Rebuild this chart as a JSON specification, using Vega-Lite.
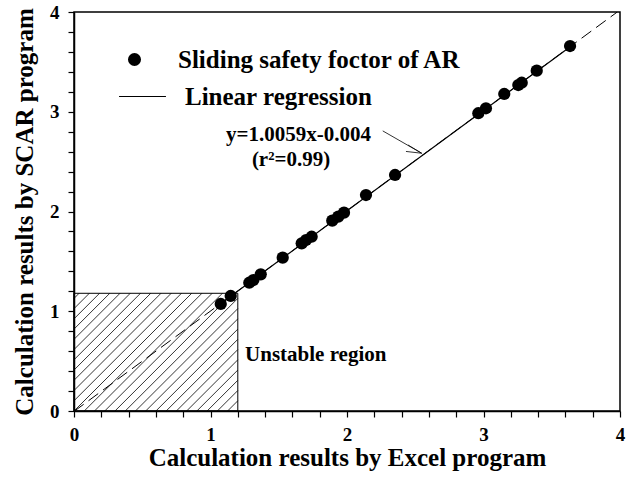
{
  "$schema": "https://vega.github.io/schema/vega-lite/v6.json",
  "autosize": "none",
  "width": 546,
  "height": 399,
  "padding": {"left": 74, "top": 12, "right": 13, "bottom": 70},
  "background": "white",
  "config": {
    "view": {"stroke": "black", "strokeWidth": 1.5},
    "font": "Liberation Serif",
    "axis": {
      "domainColor": "black", "domainWidth": 1.5, "tickColor": "black", "tickWidth": 1.2,
      "labelFont": "Liberation Serif", "labelFontWeight": "bold", "labelFontSize": 19, "labelColor": "black",
      "titleFont": "Liberation Serif", "titleFontWeight": "bold", "titleFontSize": 25, "titleColor": "black",
      "grid": false
    },
    "legend": {"labelFont": "Liberation Serif", "labelFontWeight": "bold", "labelFontSize": 25, "labelColor": "black", "labelLimit": 400}
  },
  "datasets": {
    "pts": [
      {"excel": 1.075, "scar": 1.073, "series": "Sliding safety foctor of AR"},
      {"excel": 1.148, "scar": 1.153, "series": "Sliding safety foctor of AR"},
      {"excel": 1.284, "scar": 1.286, "series": "Sliding safety foctor of AR"},
      {"excel": 1.314, "scar": 1.313, "series": "Sliding safety foctor of AR"},
      {"excel": 1.368, "scar": 1.370, "series": "Sliding safety foctor of AR"},
      {"excel": 1.529, "scar": 1.537, "series": "Sliding safety foctor of AR"},
      {"excel": 1.668, "scar": 1.681, "series": "Sliding safety foctor of AR"},
      {"excel": 1.700, "scar": 1.714, "series": "Sliding safety foctor of AR"},
      {"excel": 1.741, "scar": 1.747, "series": "Sliding safety foctor of AR"},
      {"excel": 1.892, "scar": 1.908, "series": "Sliding safety foctor of AR"},
      {"excel": 1.936, "scar": 1.948, "series": "Sliding safety foctor of AR"},
      {"excel": 1.978, "scar": 1.988, "series": "Sliding safety foctor of AR"},
      {"excel": 2.139, "scar": 2.165, "series": "Sliding safety foctor of AR"},
      {"excel": 2.352, "scar": 2.366, "series": "Sliding safety foctor of AR"},
      {"excel": 2.962, "scar": 2.985, "series": "Sliding safety foctor of AR"},
      {"excel": 3.018, "scar": 3.035, "series": "Sliding safety foctor of AR"},
      {"excel": 3.152, "scar": 3.178, "series": "Sliding safety foctor of AR"},
      {"excel": 3.255, "scar": 3.268, "series": "Sliding safety foctor of AR"},
      {"excel": 3.280, "scar": 3.291, "series": "Sliding safety foctor of AR"},
      {"excel": 3.390, "scar": 3.412, "series": "Sliding safety foctor of AR"},
      {"excel": 3.634, "scar": 3.659, "series": "Sliding safety foctor of AR"}
    ],
    "hatch": [
      {"x": 0, "y": 1.1289, "x2": 0.0373, "y2": 1.18},
      {"x": 0, "y": 1.0263, "x2": 0.1123, "y2": 1.18},
      {"x": 0, "y": 0.9237, "x2": 0.1873, "y2": 1.18},
      {"x": 0, "y": 0.8210, "x2": 0.2623, "y2": 1.18},
      {"x": 0, "y": 0.7184, "x2": 0.3373, "y2": 1.18},
      {"x": 0, "y": 0.6158, "x2": 0.4123, "y2": 1.18},
      {"x": 0, "y": 0.5132, "x2": 0.4873, "y2": 1.18},
      {"x": 0, "y": 0.4105, "x2": 0.5623, "y2": 1.18},
      {"x": 0, "y": 0.3079, "x2": 0.6373, "y2": 1.18},
      {"x": 0, "y": 0.2053, "x2": 0.7123, "y2": 1.18},
      {"x": 0, "y": 0.1026, "x2": 0.7873, "y2": 1.18},
      {"x": 0, "y": 0, "x2": 0.8623, "y2": 1.18},
      {"x": 0.075, "y": 0, "x2": 0.9373, "y2": 1.18},
      {"x": 0.15, "y": 0, "x2": 1.0123, "y2": 1.18},
      {"x": 0.225, "y": 0, "x2": 1.0873, "y2": 1.18},
      {"x": 0.3, "y": 0, "x2": 1.1623, "y2": 1.18},
      {"x": 0.375, "y": 0, "x2": 1.2, "y2": 1.1289},
      {"x": 0.45, "y": 0, "x2": 1.2, "y2": 1.0263},
      {"x": 0.525, "y": 0, "x2": 1.2, "y2": 0.9237},
      {"x": 0.6, "y": 0, "x2": 1.2, "y2": 0.8210},
      {"x": 0.675, "y": 0, "x2": 1.2, "y2": 0.7184},
      {"x": 0.75, "y": 0, "x2": 1.2, "y2": 0.6158},
      {"x": 0.825, "y": 0, "x2": 1.2, "y2": 0.5132},
      {"x": 0.9, "y": 0, "x2": 1.2, "y2": 0.4105},
      {"x": 0.975, "y": 0, "x2": 1.2, "y2": 0.3079},
      {"x": 1.05, "y": 0, "x2": 1.2, "y2": 0.2053},
      {"x": 1.125, "y": 0, "x2": 1.2, "y2": 0.1026}
    ],
    "region": [{"x": 0, "x2": 1.2, "y": 0, "y2": 1.18}],
    "fitfull": [{"x": 0, "y": -0.004}, {"x": 3.98, "y": 4.0}],
    "fitsolid": [{"x": 1.07, "y": 1.072}, {"x": 3.65, "y": 3.667}],
    "arrow": [
      {"x": 2.262, "y": 2.808, "x2": 2.547, "y2": 2.584},
      {"x": 2.432, "y": 2.602, "x2": 2.547, "y2": 2.584},
      {"x": 2.447, "y": 2.667, "x2": 2.547, "y2": 2.584}
    ],
    "notes": [
      {"x": 1.645, "y": 2.77, "label": "y=1.0059x-0.004"},
      {"x": 1.59, "y": 2.52, "label": "(r²=0.99)"}
    ],
    "regionLabel": [{"x": 1.253, "y": 0.561, "label": "Unstable region"}]
  },
  "layer": [
    {
      "data": {"name": "hatch"},
      "mark": {"type": "rule", "color": "black", "strokeWidth": 0.8},
      "encoding": {
        "x": {"field": "x", "type": "quantitative",
          "scale": {"domain": [0, 4], "nice": false},
          "axis": {
            "title": "Calculation results by Excel program",
            "values": [0, 0.2, 0.4, 0.6, 0.8, 1, 1.2, 1.4, 1.6, 1.8, 2, 2.2, 2.4, 2.6, 2.8, 3, 3.2, 3.4, 3.6, 3.8, 4],
            "tickCount": 100,
            "labelExpr": "datum.value % 1 === 0 ? datum.value : ''",
            "tickSize": 6, "labelPadding": 8, "titlePadding": 1, "labelFlush": false, "labelOverlap": false,
            "encode": {"ticks": {"update": {"y": {"value": -7}, "y2": {"signal": "datum.value % 1 === 0 ? 6 : 0"}}}}
          }
        },
        "y": {"field": "y", "type": "quantitative",
          "scale": {"domain": [0, 4], "nice": false},
          "axis": {
            "title": "Calculation results by SCAR program",
            "values": [0, 0.2, 0.4, 0.6, 0.8, 1, 1.2, 1.4, 1.6, 1.8, 2, 2.2, 2.4, 2.6, 2.8, 3, 3.2, 3.4, 3.6, 3.8, 4],
            "tickCount": 100,
            "labelExpr": "datum.value % 1 === 0 ? datum.value : ''",
            "tickSize": 6, "labelPadding": 9, "titlePadding": 12, "labelFlush": false, "labelOverlap": false,
            "encode": {"ticks": {"update": {"x": {"value": 7}, "x2": {"signal": "datum.value % 1 === 0 ? -6 : 0"}}}}
          }
        },
        "x2": {"field": "x2"},
        "y2": {"field": "y2"}
      }
    },
    {
      "data": {"name": "region"},
      "mark": {"type": "rect", "fill": "white", "fillOpacity": 0, "stroke": "black", "strokeWidth": 1},
      "encoding": {
        "x": {"field": "x", "type": "quantitative"},
        "x2": {"field": "x2"},
        "y": {"field": "y", "type": "quantitative"},
        "y2": {"field": "y2"}
      }
    },
    {
      "data": {"name": "fitfull"},
      "mark": {"type": "line", "color": "black", "strokeWidth": 1, "strokeDash": [12, 6], "clip": true},
      "encoding": {
        "x": {"field": "x", "type": "quantitative"},
        "y": {"field": "y", "type": "quantitative"}
      }
    },
    {
      "data": {"name": "fitsolid"},
      "mark": {"type": "line", "strokeWidth": 1.2},
      "encoding": {
        "x": {"field": "x", "type": "quantitative"},
        "y": {"field": "y", "type": "quantitative"},
        "color": {"datum": "Linear regression", "type": "nominal",
          "scale": {"range": ["black"]},
          "legend": {"title": null, "orient": "none", "legendX": 44, "legendY": 60, "symbolSize": 2200, "symbolStrokeWidth": 1.2, "labelOffset": 18, "padding": 0}
        }
      }
    },
    {
      "data": {"name": "pts"},
      "mark": {"type": "point", "filled": true, "color": "black", "opacity": 1, "size": 150},
      "encoding": {
        "x": {"field": "excel", "type": "quantitative"},
        "y": {"field": "scar", "type": "quantitative"},
        "shape": {"field": "series", "type": "nominal",
          "scale": {"range": ["circle"]},
          "legend": {"title": null, "orient": "none", "legendX": 48, "legendY": 35, "symbolSize": 170, "symbolFillColor": "black", "symbolStrokeColor": "black", "symbolOpacity": 1, "labelOffset": 31, "padding": 0}
        }
      }
    },
    {
      "data": {"name": "arrow"},
      "mark": {"type": "rule", "color": "black", "strokeWidth": 0.8},
      "encoding": {
        "x": {"field": "x", "type": "quantitative"},
        "y": {"field": "y", "type": "quantitative"},
        "x2": {"field": "x2"},
        "y2": {"field": "y2"}
      }
    },
    {
      "data": {"name": "notes"},
      "mark": {"type": "text", "font": "Liberation Serif", "fontWeight": "bold", "fontSize": 21, "align": "center", "baseline": "middle", "color": "black"},
      "encoding": {
        "x": {"field": "x", "type": "quantitative"},
        "y": {"field": "y", "type": "quantitative"},
        "text": {"field": "label"}
      }
    },
    {
      "data": {"name": "regionLabel"},
      "mark": {"type": "text", "font": "Liberation Serif", "fontWeight": "bold", "fontSize": 21, "align": "left", "baseline": "middle", "color": "black"},
      "encoding": {
        "x": {"field": "x", "type": "quantitative"},
        "y": {"field": "y", "type": "quantitative"},
        "text": {"field": "label"}
      }
    }
  ]
}
